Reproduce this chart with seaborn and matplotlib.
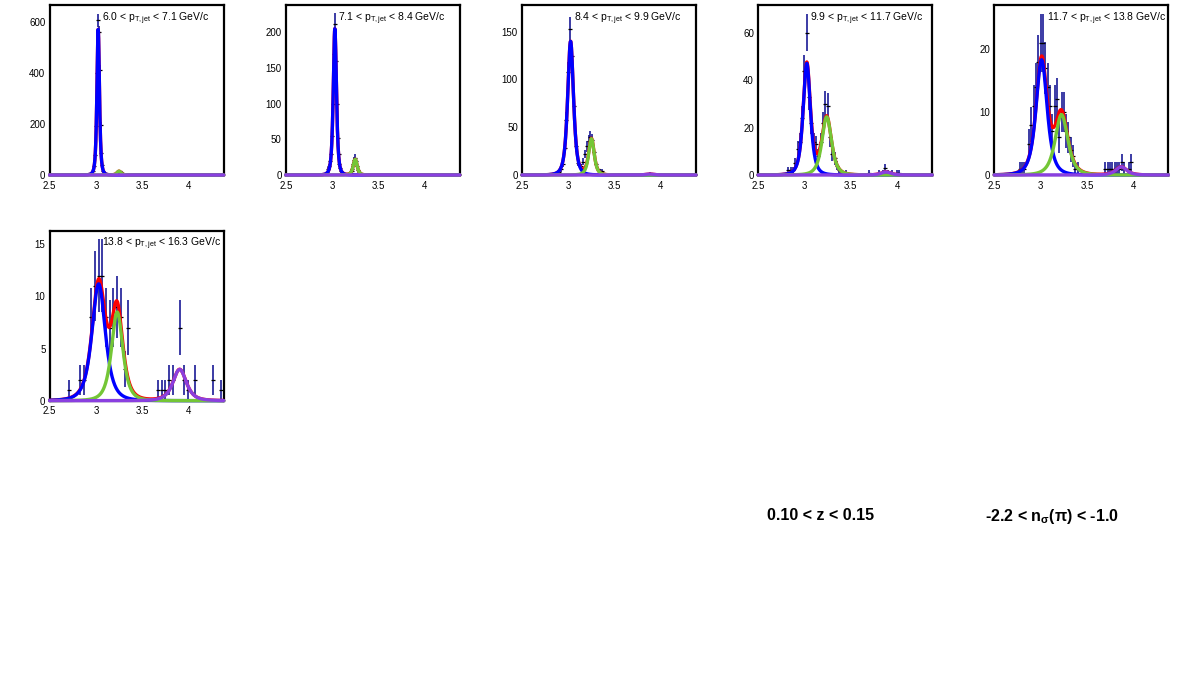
import numpy as np
import matplotlib
matplotlib.use("Agg")
import matplotlib.pyplot as plt
from matplotlib.ticker import MultipleLocator, FuncFormatter
import seaborn as sns

sns.set_style("white")
plt.rcParams['font.family'] = ['Liberation Sans', 'DejaVu Sans']
plt.rcParams['mathtext.fontset'] = 'custom'
plt.rcParams['mathtext.rm'] = 'Liberation Sans'
plt.rcParams['mathtext.it'] = 'Liberation Sans'
plt.rcParams['mathtext.bf'] = 'Liberation Sans:bold'
plt.rcParams['text.color'] = 'black'
plt.rcParams['xtick.color'] = 'black'
plt.rcParams['ytick.color'] = 'black'

# jet pT bins of the six panels
pt_labels = [r"6.0 < p$_{\mathrm{T,jet}}$ < 7.1 GeV/c",
             r"7.1 < p$_{\mathrm{T,jet}}$ < 8.4 GeV/c",
             r"8.4 < p$_{\mathrm{T,jet}}$ < 9.9 GeV/c",
             r"9.9 < p$_{\mathrm{T,jet}}$ < 11.7 GeV/c",
             r"11.7 < p$_{\mathrm{T,jet}}$ < 13.8 GeV/c",
             r"13.8 < p$_{\mathrm{T,jet}}$ < 16.3 GeV/c"]

# histogram contents (bin centre, counts)
p1_x = [2.96, 2.97, 2.98, 2.99, 3.00, 3.01, 3.02, 3.03, 3.04, 3.05, 3.06, 3.07, 3.08, 3.09, 3.10,
        3.21, 3.22, 3.23, 3.24, 3.25, 3.26, 3.27, 3.28, 3.29]
p1_n = [5, 14, 34, 80, 190, 400, 605, 560, 410, 195, 85, 38, 17, 9, 5,
        4, 8, 12, 15, 16, 14, 10, 6, 3]

p2_x = [2.95, 2.96, 2.97, 2.98, 2.99, 3.00, 3.01, 3.02, 3.03, 3.04, 3.05, 3.06, 3.07, 3.08, 3.09,
        3.10, 3.11, 3.12, 3.20, 3.21, 3.22, 3.23, 3.24, 3.25, 3.26, 3.27, 3.28, 3.29, 3.30]
p2_n = [4, 8, 12, 20, 30, 55, 100, 170, 212, 160, 100, 52, 30, 15, 10,
        6, 4, 2, 3, 5, 9, 15, 21, 24, 19, 12, 7, 4, 2]

p3_x = [2.90, 2.92, 2.94, 2.96, 2.98, 3.00, 3.02, 3.04, 3.06, 3.08, 3.10, 3.12, 3.14, 3.16, 3.18,
        3.20, 3.22, 3.24, 3.26, 3.28, 3.30, 3.32, 3.34, 3.36, 3.38, 3.40, 3.86, 3.88, 3.90]
p3_n = [3, 6, 12, 28, 58, 108, 153, 125, 72, 30, 13, 12, 9, 14, 22,
        30, 36, 40, 37, 24, 12, 6, 4, 4, 2, 1, 1, 2, 1]

p4_x = [2.825, 2.85, 2.875, 2.90, 2.925, 2.95, 2.975, 3.00, 3.025, 3.05, 3.075, 3.10, 3.125, 3.15,
        3.175, 3.20, 3.225, 3.25, 3.275, 3.30, 3.325, 3.35, 3.375, 3.40, 3.45, 3.70, 3.80, 3.85,
        3.875, 3.90, 3.95, 4.00, 4.025]
p4_n = [2, 2, 2, 5, 11, 14, 24, 44, 60, 33, 22, 14, 13, 8,
        14, 22, 30, 29, 16, 9, 7, 4, 2, 1, 1, 1, 1, 1,
        3, 1, 1, 1, 1]

p5_x = [2.775, 2.80, 2.825, 2.875, 2.90, 2.925, 2.95, 2.975, 3.00, 3.025, 3.05, 3.075, 3.10, 3.125,
        3.15, 3.175, 3.20, 3.225, 3.25, 3.275, 3.30, 3.325, 3.35, 3.375, 3.40, 3.70, 3.725, 3.75,
        3.775, 3.80, 3.825, 3.85, 3.875, 3.90, 3.95, 3.975]
p5_n = [1, 1, 1, 5, 8, 11, 14, 18, 21, 21, 17, 14, 11, 7,
        11, 12, 6, 10, 10, 7, 6, 4, 3, 1, 1, 1, 1, 1,
        1, 1, 1, 1, 2, 1, 1, 2]

p6_x = [2.71, 2.83, 2.87, 2.95, 2.99, 3.03, 3.07, 3.11, 3.15, 3.19, 3.23, 3.27, 3.31, 3.35,
        3.67, 3.71, 3.75, 3.79, 3.83, 3.91, 3.95, 3.99, 4.07, 4.27, 4.35]
p6_n = [1, 2, 2, 8, 11, 12, 12, 8, 7, 8, 9, 8, 3, 7,
        1, 1, 1, 2, 2, 7, 2, 1, 2, 2, 1]

# fitted peaks per panel: (height, mean, half width)
pi_fit = [(570, 3.025, 0.016), (205, 3.03, 0.02), (140, 3.025, 0.037),
          (47, 3.025, 0.046), (18.3, 3.01, 0.07), (11.2, 3.03, 0.085)]
k_fit = [(15, 3.25, 0.025), (22, 3.25, 0.025), (38, 3.25, 0.035),
         (24.5, 3.24, 0.06), (9.6, 3.225, 0.08), (8.5, 3.23, 0.072)]
p_fit = [(0.2, 3.88, 0.05), (0.2, 3.88, 0.05), (1.0, 3.88, 0.05),
         (1.3, 3.88, 0.06), (1.3, 3.87, 0.07), (3.0, 3.905, 0.085)]

y_top = [665, 238, 178, 71.6, 27, 16.3]
y_major = [200, 50, 50, 20, 10, 5]
y_minor = [20, 10, 10, 2, 1, 1]

hist_x = [p1_x, p2_x, p3_x, p4_x, p5_x, p6_x]
hist_n = [p1_n, p2_n, p3_n, p4_n, p5_n, p6_n]

x_lo, x_hi = 2.5, 4.38
xs = np.linspace(x_lo, x_hi, 800)


def peak(x, h, m, w):
    s = w / 1.115
    return h * (1 + ((x - m) / s) ** 2 / 3) ** -2


fig = plt.figure(figsize=(11.81, 6.77), dpi=100)
W, H = 1181, 677
col_w = W / 5
row_h = H / 3

for i in range(6):
    row, col = divmod(i, 5)
    left = (col * col_w + 49.6) / W
    bottom = 1 - (row * row_h + 175) / H
    ax = fig.add_axes([left, bottom, 174 / W, 170 / H])

    x = np.array(hist_x[i])
    n = np.array(hist_n[i], dtype=float)
    ax.errorbar(x, n, yerr=np.sqrt(n), fmt='none', ecolor='#1a1a96', elinewidth=1.2, zorder=1)
    sns.scatterplot(x=x, y=n, marker='_', color='black', s=10, linewidth=0.9, ax=ax, zorder=1.5)

    yb = peak(xs, *pi_fit[i])
    yk = peak(xs, *k_fit[i])
    yp = peak(xs, *p_fit[i])
    for yy, c in [(yb + yk + yp, '#ff0000'), (yb, '#0000ff'), (yk, '#74c636'), (yp, '#8a3fe0')]:
        sns.lineplot(x=xs, y=yy, color=c, lw=2.4, ax=ax, estimator=None, sort=False,
                     zorder=3, clip_on=False)

    ax.set_xlim(x_lo, x_hi)
    ax.set_ylim(0, y_top[i])
    ax.set_xlabel('')
    ax.set_ylabel('')
    ax.xaxis.set_major_locator(MultipleLocator(0.5))
    ax.xaxis.set_minor_locator(MultipleLocator(0.1))
    ax.yaxis.set_major_locator(MultipleLocator(y_major[i]))
    ax.yaxis.set_minor_locator(MultipleLocator(y_minor[i]))
    ax.xaxis.set_major_formatter(FuncFormatter(lambda v, p: f"{v:g}"))
    ax.yaxis.set_major_formatter(FuncFormatter(lambda v, p: f"{v:g}"))
    ax.tick_params(which='both', direction='in', top=False, right=False, labelsize=7,
                   labelcolor='black', color='black', width=0.8)
    ax.tick_params(axis='x', pad=4)
    ax.tick_params(axis='y', pad=3)
    ax.tick_params(which='major', length=5)
    ax.tick_params(which='minor', length=2.5)
    for sp in ax.spines.values():
        sp.set_linewidth(1.6)
        sp.set_color('black')
    ax.text(0.30, 0.92, pt_labels[i], transform=ax.transAxes, fontsize=7.5, va='center',
            color='black')

fig.text(767 / W, 1 - 516 / H, "0.10 < z < 0.15", fontsize=11.5, fontweight='bold',
         va='center', color='black')
fig.text(985 / W, 1 - 516 / H, r"-2.2 < n$_{\mathbf{σ}}$(π) < -1.0", fontsize=11.5,
         fontweight='bold', va='center', color='black')

plt.savefig('out.png', dpi=100)
